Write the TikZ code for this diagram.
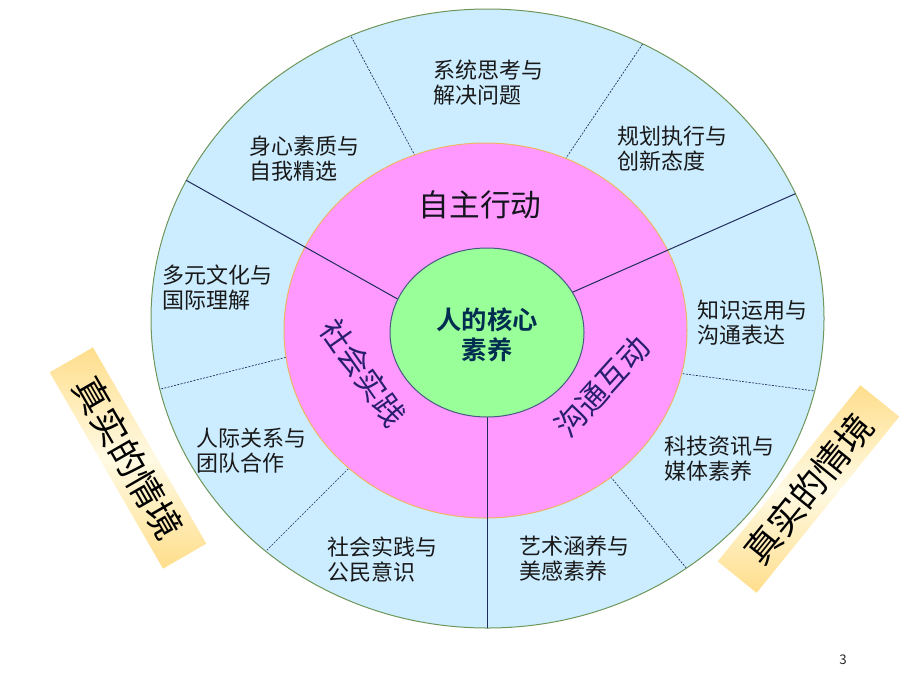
\documentclass[tikz,border=0pt]{standalone}
\usepackage{fontspec}
\newfontfamily\cjk[BoldFont={Noto Sans CJK SC Bold}]{Noto Sans CJK SC}
\usetikzlibrary{shapes.geometric}

\definecolor{ringblue}{RGB}{204,236,255}
\definecolor{ringedge}{RGB}{110,150,90}
\definecolor{midpink}{RGB}{255,153,255}
\definecolor{pinkedge}{RGB}{240,180,100}
\definecolor{coregreen}{RGB}{153,255,153}
\definecolor{coreedge}{RGB}{70,90,130}
\definecolor{divline}{RGB}{31,45,90}
\definecolor{sectortext}{RGB}{40,30,110}
\definecolor{coretext}{RGB}{0,45,80}
\definecolor{bannergold}{RGB}{255,222,140}
\definecolor{bannerpale}{RGB}{255,250,228}

\tikzset{every picture/.style={line width=0.75pt}}

\begin{document}
\begin{tikzpicture}[x=0.75pt,y=0.75pt,yscale=-1,xscale=1,
	lbl/.style={anchor=west, align=left, inner sep=0pt, text={rgb,255:red,25;green,25;blue,25}, font=\cjk\fontsize{16.5}{18.75}\selectfont},
	sector/.style={inner sep=0pt, font=\cjk\fontsize{23}{27}\selectfont},
	banner/.style={minimum width=170pt, minimum height=37.5pt, inner sep=0pt, top color=bannergold, bottom color=bannergold, middle color=bannerpale, font=\cjk\fontsize{27}{30}\selectfont},
	divsolid/.style={draw=divline, line width=0.75pt},
	divdash/.style={draw=divline, line width=0.5pt, dash pattern=on 1.5pt off 1pt}]
	\useasboundingbox (0,0) rectangle (920,690);
	
	%Shape: Ellipse [outer ring]
	\draw [fill=ringblue, draw=none] (487.5,318.5) ellipse (336.5 and 309.5);
	
	%dividers of the outer ring
	\begin{scope}
		\clip (487.5,318.5) ellipse (336.5 and 309.5);
		\draw [divdash] (345,25) -- (420,165) ;
		\draw [divdash] (650,33) -- (560,167) ;
		\draw [divdash] (145,393) -- (295,355) ;
		\draw [divdash] (830,393) -- (670,372) ;
		\draw [divdash] (255,562) -- (355,462) ;
		\draw [divdash] (697,581) -- (605,470) ;
	\end{scope}
	\draw [draw=ringedge, line width=0.75pt] (487.5,318.5) ellipse (336.5 and 309.5);
	
	%Shape: Ellipse [middle ring]
	\draw [fill=midpink, draw=pinkedge, line width=0.75pt] (485.5,330.5) ellipse (201.5 and 187.5);
	
	\begin{scope}
		\clip (487.5,318.5) ellipse (336.5 and 309.5);
		\draw [divsolid] (175,174) -- (410,306) ;
		\draw [divsolid] (806,189) -- (555,300) ;
		\draw [divsolid] (487,400) -- (487,640) ;
	\end{scope}
	
	%Shape: Ellipse [core]
	\draw [fill=coregreen, draw=coreedge, line width=0.75pt] (487,332.5) ellipse (97 and 84.5);
	
	%core and sectors
	\node [align=center, inner sep=0pt, text=coretext, font=\cjk\bfseries\fontsize{19}{22.5}\selectfont] (core) at (487,335) {人的核心\\素养};
	\node [sector, text={rgb,255:red,20;green,20;blue,30}] (selfact) at (480,205) {自主行动};
	\node [sector, text=sectortext, rotate=-55] (social) at (363.5,373) {社会实践};
	\node [sector, text=sectortext, rotate=48] (comm) at (602,386.5) {沟通互动};
	
	%ring labels
	\node [lbl] (systhink) at (433,82.5) {系统思考与\\解决问题};
	\node [lbl] (bodymind) at (249,159) {身心素质与\\自我精选};
	\node [lbl] (planexec) at (617,149) {规划执行与\\创新态度};
	\node [lbl] (multicul) at (162,288) {多元文化与\\国际理解};
	\node [lbl] (knowuse) at (697,323) {知识运用与\\沟通表达};
	\node [lbl] (relation) at (196,450.5) {人际关系与\\团队合作};
	\node [lbl] (techinfo) at (664,458.5) {科技资讯与\\媒体素养};
	\node [lbl] (citizen) at (327,559.5) {社会实践与\\公民意识};
	\node [lbl] (artsense) at (519,558.5) {艺术涵养与\\美感素养};
	
	%side banners
	\node [banner, rotate=-60] (leftbanner) at (128,458) {真实的情境};
	\node [banner, rotate=51] (rightbanner) at (808.5,489) {真实的情境};
	
	\node [inner sep=0pt, text={rgb,255:red,40;green,40;blue,40}, font=\cjk\fontsize{10}{12}\selectfont] (pagenum) at (843,660) {3};
	
\end{tikzpicture}
\end{document}
